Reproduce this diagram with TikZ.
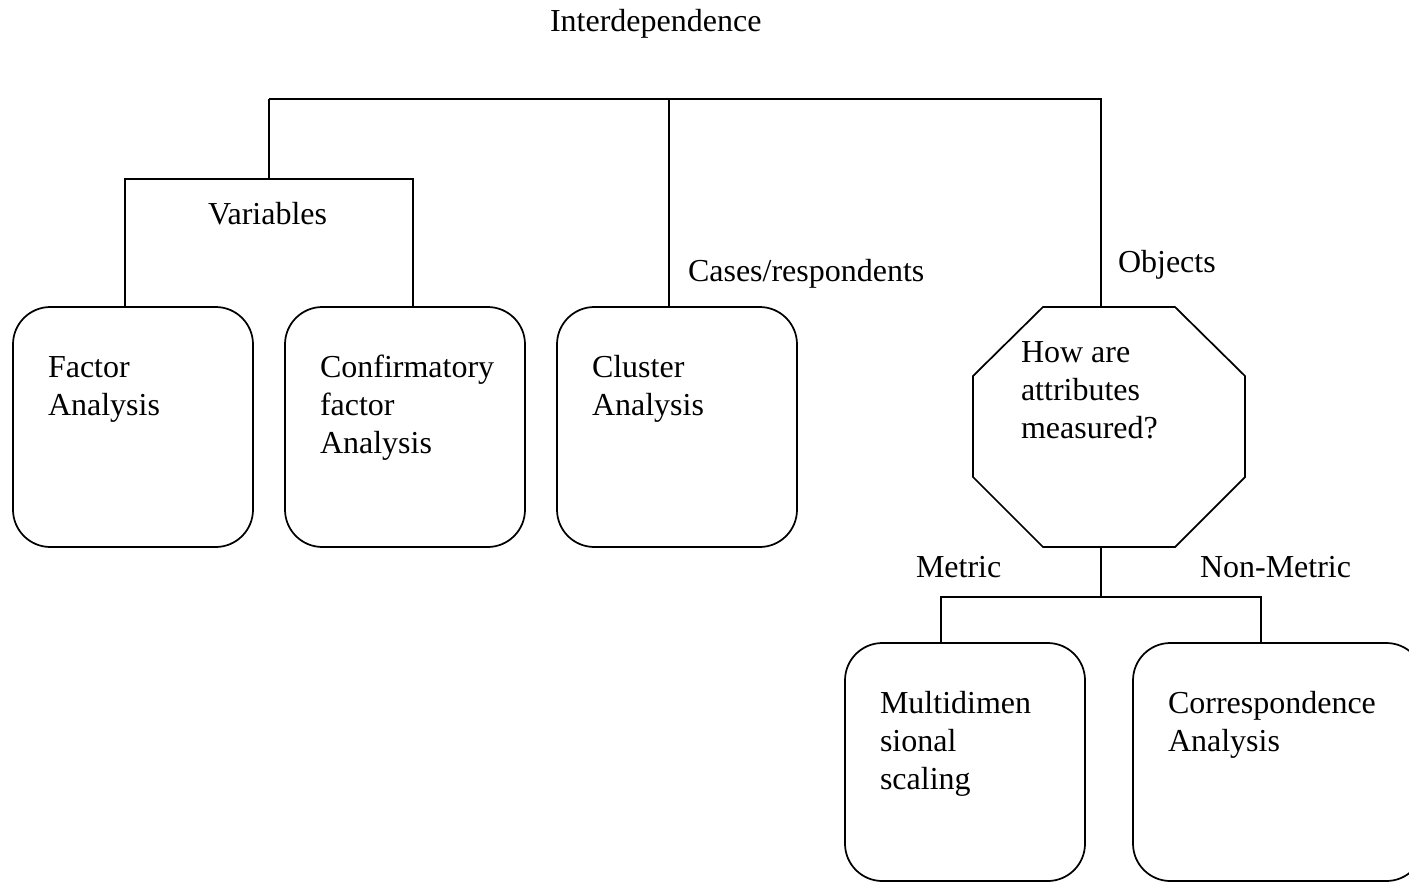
\documentclass[tikz,border=0pt]{standalone}
\usepackage{fontspec}
\setmainfont{Liberation Serif}
\usetikzlibrary{calc}

% several lines of text whose reference point is the first baseline
\newcommand{\stacktext}[1]{\parbox[t]{260pt}{#1}}

\begin{document}
\begin{tikzpicture}[
    x=0.75pt, y=-0.75pt,
    line width=1.3pt,
    every node/.style={font=\fontsize{24}{28.5}\selectfont, inner sep=0pt, outer sep=0pt},
    method/.style={draw, rounded corners=28pt, minimum width=180pt, minimum height=180pt, anchor=north west},
    frame/.style={minimum width=204pt, minimum height=180pt, anchor=north west},
    caption/.style={anchor=base west},
  ]
  \useasboundingbox (0,0) rectangle (1409,882);
  \clip (0,0) rectangle (1409,882);

  % method boxes
  \node[method] (fa)  at (13,307)  {};
  \node[method] (cfa) at (285,307) {};
  \node[method] (cl)  at (557,307) {};
  \node[method, minimum height=178.5pt] (mds) at (845,643) {};
  \node[method, minimum height=178.5pt, minimum width=218pt] (cor) at (1133,643) {};

  % decision octagon
  \node[frame] (oct) at (973,307) {};
  \draw ($(oct.north west)+(70,0)$) -- ($(oct.north east)+(-70,0)$)
     -- ($(oct.north east)+(0,69)$) -- ($(oct.south east)+(0,-70)$)
     -- ($(oct.south east)+(-70,0)$) -- ($(oct.south west)+(70,0)$)
     -- ($(oct.south west)+(0,-70)$) -- ($(oct.north west)+(0,69)$) -- cycle;

  % texts inside the shapes
  \node[caption] (fa-t)  at ($(fa.north west)+(35,70)$)  {\stacktext{Factor\\Analysis}};
  \node[caption] (cfa-t) at ($(cfa.north west)+(35,70)$) {\stacktext{Confirmatory\\factor\\Analysis}};
  \node[caption] (cl-t)  at ($(cl.north west)+(35,70)$)  {\stacktext{Cluster\\Analysis}};
  \node[caption] (oct-t) at ($(oct.north west)+(48,55)$) {\stacktext{How are\\attributes\\measured?}};
  \node[caption] (mds-t) at ($(mds.north west)+(35,70)$) {\stacktext{Multidimen\\sional\\scaling}};
  \node[caption] (cor-t) at ($(cor.north west)+(35,70)$) {\stacktext{Correspondence\\Analysis}};

  % branch labels
  \node[caption] (title)   at (550,31)   {Interdependence};
  \node[caption] (l-var)   at (208,224)  {Variables};
  \node[caption] (l-case)  at (688,281)  {Cases/respondents};
  \node[caption] (l-obj)   at (1118,272) {Objects};
  \node[caption] (l-met)   at (916,577)  {Metric};
  \node[caption] (l-nmet)  at (1200,577) {Non-Metric};

  % junction points of the tree
  \coordinate (root-l)   at (269,99);
  \coordinate (var-bar)  at (269,179);
  \coordinate (meas-bar) at (1101,597);

  % upper tree
  \draw (root-l) -| ($(oct.north west)+(128,0)$);
  \draw (root-l) -- (var-bar);
  \draw ($(fa.north west)+(112,0)$) |- (var-bar) -| ($(cfa.north west)+(128,0)$);
  \draw ($(cl.north west)+(112,0)$) -- ($(cl.north west)+(112,-208)$);

  % lower tree
  \draw ($(oct.south west)+(128,0)$) -- (meas-bar);
  \draw ($(mds.north west)+(96,0)$) |- (meas-bar) -| ($(cor.north west)+(128,0)$);
\end{tikzpicture}
\end{document}
